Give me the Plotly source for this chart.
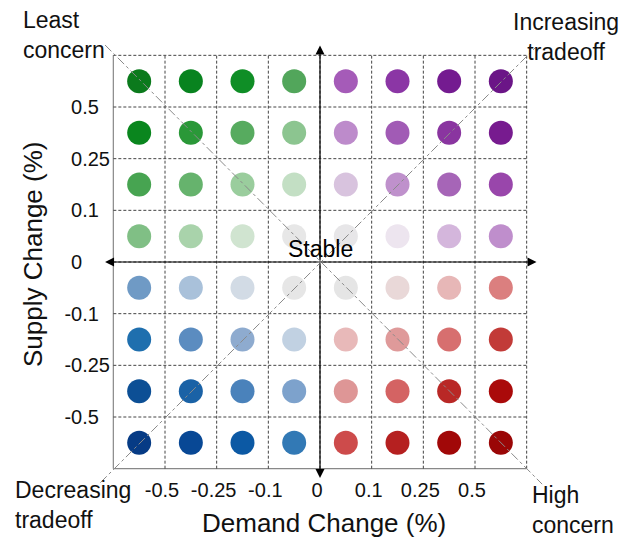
import plotly.graph_objects as go

# ---- data ----
demand_ticks = ["-0.5", "-0.25", "-0.1", "0", "0.1", "0.25", "0.5"]
supply_ticks = ["0.5", "0.25", "0.1", "0", "-0.1", "-0.25", "-0.5"]  # top -> bottom

# cell colours, rows top -> bottom, columns left -> right
row1 = ["#0b7a1c", "#08831f", "#0f8e26", "#52a65b", "#a55bb8", "#8b36a5", "#741b90", "#6b1587"]
row2 = ["#0a861e", "#2a9838", "#57ab5f", "#8cc590", "#bd8bcb", "#a15bb5", "#8a35a0", "#771b8f"]
row3 = ["#47a451", "#66b36d", "#9acd9d", "#c3dfc4", "#d8c3de", "#bf91cc", "#a665b7", "#9946ab"]
row4 = ["#80bf85", "#a9d3ab", "#d0e4d0", "#e7e7e7", "#e7e6e8", "#ede5ef", "#d4b6dc", "#bf8ecc"]
row5 = ["#6f9ac5", "#a9c1da", "#d2dbe5", "#e6e6e6", "#e5e5e5", "#e9d8d8", "#e7b7b7", "#db7f7f"]
row6 = ["#1f6fae", "#5b8cc0", "#8eabcf", "#c1d1e2", "#e8b9b9", "#df9a9a", "#d76f6f", "#c23b38"]
row7 = ["#0c4f95", "#1a62a6", "#4a82bb", "#7da2cc", "#de9696", "#d46363", "#b92826", "#aa0a0a"]
row8 = ["#063b85", "#084895", "#0c59a4", "#3279b5", "#cd4b4b", "#b52020", "#a10808", "#9a0606"]
rows = [row1, row2, row3, row4, row5, row6, row7, row8]

corner_labels = ["Least<br>concern", "Increasing<br>tradeoff", "Decreasing<br>tradeoff", "High<br>concern"]
center_label = "Stable"
x_title = "Demand Change (%)"
y_title = "Supply Change (%)"

# ---- layout geometry (designed in page pixels; page body has an 8px margin) ----
OFF = 8
W, H = 633, 539
PL, PT, PW, PH = 103, 45, 434, 434          # plot area in page pixels
ML, MT = PL - OFF, PT - OFF
MR, MB = W - ML - PW, H - MT - PH
N = len(rows)
PAD = 0.2
RNG = [-PAD, N + PAD]
FONT = "Liberation Sans, Arial, sans-serif"


def px_x(px):
    return (px - PL) / PW


def px_y(py):
    return (PT + PH - py) / PH


def d2p(v):
    return (v + PAD) / (N + 2 * PAD)


# left-align the y tick labels (digits part) using figure / punctuation spaces
def pad_label(s):
    core = s.lstrip("-")
    width = sum(0.278 if ch == "." else 0.556 for ch in core)
    need = 1.946 - width
    out = s
    while need > 0.5:
        out += "\u2007"
        need -= 0.556
    if need > 0.2:
        out += "\u2008"
    return out


xs, ys, cs = [], [], []
for r, row in enumerate(rows):
    for c, col in enumerate(row):
        xs.append(c + 0.5)
        ys.append(N - r - 0.5)
        cs.append(col)

fig = go.Figure()
fig.add_trace(go.Scatter(
    x=xs, y=ys, mode="markers",
    marker=dict(size=24, color=cs, line=dict(width=0)),
    hoverinfo="skip", showlegend=False,
))

shapes = []
grid_col = "#444444"
for i in range(N + 1):
    solid = (i == 0)
    style = dict(color="#888888" if solid else grid_col, width=1.2 if solid else 1,
                 dash="solid" if solid else "3px,2px")
    shapes.append(dict(type="line", xref="x", yref="y", x0=i, x1=i, y0=0, y1=N, layer="below", line=style))
    shapes.append(dict(type="line", xref="x", yref="y", y0=i, y1=i, x0=0, x1=N, layer="below", line=style))

# diagonals
diag = dict(color="#8a8a8a", width=1, dash="dashdot")
shapes.append(dict(type="line", xref="paper", yref="paper",
                   x0=d2p(-0.16), y0=d2p(8.2), x1=d2p(8.3), y1=d2p(-0.3), line=diag, layer="above"))
shapes.append(dict(type="line", xref="paper", yref="paper",
                   x0=d2p(-0.25), y0=d2p(-0.27), x1=d2p(8.17), y1=d2p(8.15), line=diag, layer="above"))

ann = []
c = N / 2
arrow = dict(showarrow=True, text="", arrowhead=2, arrowsize=1.5, arrowwidth=1.2, arrowcolor="black",
             xref="x", yref="y", axref="x", ayref="y", standoff=0, startstandoff=0)
for hx, hy in [(c, 8.19), (c, -0.18), (-0.16, c), (8.19, c)]:
    ann.append(dict(arrow, x=hx, y=hy, ax=c, ay=c))

ann.append(dict(text=center_label, x=c, y=c, xref="x", yref="y", showarrow=False,
                xanchor="center", yanchor="bottom", yshift=-2, font=dict(size=23, color="black", family=FONT)))

cf = dict(size=23, color="#111111", family=FONT)
ann.append(dict(text=corner_labels[0], x=px_x(21), y=px_y(35), xref="paper", yref="paper", showarrow=False,
                xanchor="left", yanchor="middle", align="left", font=cf))
ann.append(dict(text=corner_labels[1], x=px_x(566), y=px_y(37), xref="paper", yref="paper", showarrow=False,
                xanchor="center", yanchor="middle", align="center", font=cf))
ann.append(dict(text=corner_labels[2], x=px_x(13), y=px_y(505), xref="paper", yref="paper", showarrow=False,
                xanchor="left", yanchor="middle", align="left", font=cf))
ann.append(dict(text=corner_labels[3], x=px_x(530), y=px_y(510), xref="paper", yref="paper", showarrow=False,
                xanchor="left", yanchor="middle", align="left", font=cf))

tf = dict(size=26, color="#111111", family=FONT)
ann.append(dict(text=x_title, x=px_x(324), y=px_y(523), xref="paper", yref="paper", showarrow=False,
                xanchor="center", yanchor="middle", font=tf))
ann.append(dict(text=y_title, x=px_x(33), y=px_y(255), xref="paper", yref="paper", showarrow=False,
                xanchor="center", yanchor="middle", textangle=-90, font=tf))

tickfont = dict(size=20, color="#111111", family=FONT)
fig.update_layout(
    width=W, height=H,
    margin=dict(l=ML, r=MR, t=MT, b=MB, autoexpand=False),
    paper_bgcolor="white", plot_bgcolor="white",
    shapes=shapes, annotations=ann,
    xaxis=dict(range=RNG, tickvals=list(range(1, N)), ticktext=demand_ticks, showgrid=False,
               zeroline=False, showline=False, ticks="", tickfont=tickfont, fixedrange=True,
               ticklabelstandoff=-3, ticklabelshift=-3),
    yaxis=dict(range=RNG, tickvals=list(range(N - 1, 0, -1)), ticktext=[pad_label(t) for t in supply_ticks],
               showgrid=False, zeroline=False, showline=False, ticks="", tickfont=tickfont, fixedrange=True,
               ticklabelstandoff=-8),
    font=dict(family=FONT),
)

fig.write_html("out.html")
